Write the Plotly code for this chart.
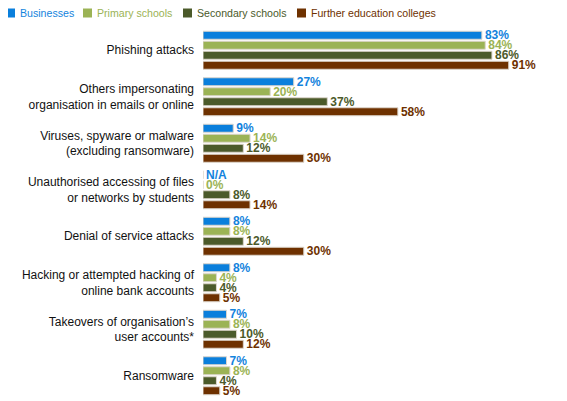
"""Types of cyber attack experienced, by organisation type (horizontal grouped bars)."""

import plotly.graph_objects as go

CATEGORIES = [
    "Phishing attacks",
    "Others impersonating<br>organisation in emails or online",
    "Viruses, spyware or malware<br>(excluding ransomware)",
    "Unauthorised accessing of files<br>or networks by students",
    "Denial of service attacks",
    "Hacking or attempted hacking of<br>online bank accounts",
    "Takeovers of organisation’s<br>user accounts*",
    "Ransomware",
]

# None = not asked (shown as N/A)
BUSINESSES = [83, 27, 9, None, 8, 8, 7, 7]
PRIMARY = [84, 20, 14, 0, 8, 4, 8, 8]
SECONDARY = [86, 37, 12, 8, 12, 4, 10, 4]
FURTHER_ED = [91, 58, 30, 14, 30, 5, 12, 5]

SERIES_NAMES = ["Businesses", "Primary schools", "Secondary schools", "Further education colleges"]
SERIES_VALUES = [BUSINESSES, PRIMARY, SECONDARY, FURTHER_ED]
BAR_COLOURS = ["#0A7FDC", "#9BB355", "#4B5A2A", "#6E3100"]
TEXT_COLOURS = ["#1383DD", "#9BB355", "#4B5A2A", "#6E3100"]

FONT = "Liberation Sans, Arial, sans-serif"

# the page body adds an 8px margin, so the figure is drawn 8px smaller
W, H = 559, 393
L, R, T, B = 195, 28, 19, 2
PLOT_W = W - L - R
PLOT_H = H - T - B


def px_x(x):
    return (x - L) / PLOT_W


def px_y(y):
    return (H - B - y) / PLOT_H


fig = go.Figure()
for name, values, bar_col, txt_col in zip(SERIES_NAMES, SERIES_VALUES, BAR_COLOURS, TEXT_COLOURS):
    xs = [0 if v is None else v for v in values]
    labels = ["N/A" if v is None else f"{v}%" for v in values]
    fig.add_trace(
        go.Bar(
            y=CATEGORIES,
            x=xs,
            orientation="h",
            name=name,
            marker=dict(color=bar_col, line=dict(color="#ddd6cc", width=1)),
            text=labels,
            texttemplate="<b>%{text}</b>",
            textposition="outside",
            textfont=dict(family=FONT, size=12, color=txt_col),
            constraintext="none",
            cliponaxis=False,
            hoverinfo="skip",
        )
    )

# legend drawn by hand: small squares with coloured text, as in the source
legend_x = [-2, 75, 175, 289]
for x0, name, bar_col, txt_col in zip(legend_x, SERIES_NAMES, BAR_COLOURS, TEXT_COLOURS):
    fig.add_shape(
        type="rect",
        xref="paper",
        yref="paper",
        x0=px_x(x0),
        x1=px_x(x0 + 9),
        y0=px_y(0.5),
        y1=px_y(9.5),
        fillcolor=bar_col,
        line=dict(width=0),
    )
    fig.add_annotation(
        xref="paper",
        yref="paper",
        x=px_x(x0 + 12),
        y=px_y(5),
        xanchor="left",
        yanchor="middle",
        text=name,
        showarrow=False,
        font=dict(family=FONT, size=10.6, color=txt_col),
    )

fig.update_layout(
    width=W,
    height=H,
    barmode="group",
    bargap=0.14,
    bargroupgap=0.2,
    plot_bgcolor="white",
    paper_bgcolor="white",
    font=dict(family=FONT, size=12, color="#111"),
    margin=dict(l=L, r=R, t=T, b=B),
    showlegend=False,
)
fig.update_xaxes(range=[0, 100], visible=False)
fig.update_yaxes(
    autorange="reversed",
    automargin=False,
    showgrid=False,
    showline=False,
    ticks="",
    ticklabelstandoff=8,
    tickfont=dict(size=12, color="#111"),
)

fig.write_html("out.html")
